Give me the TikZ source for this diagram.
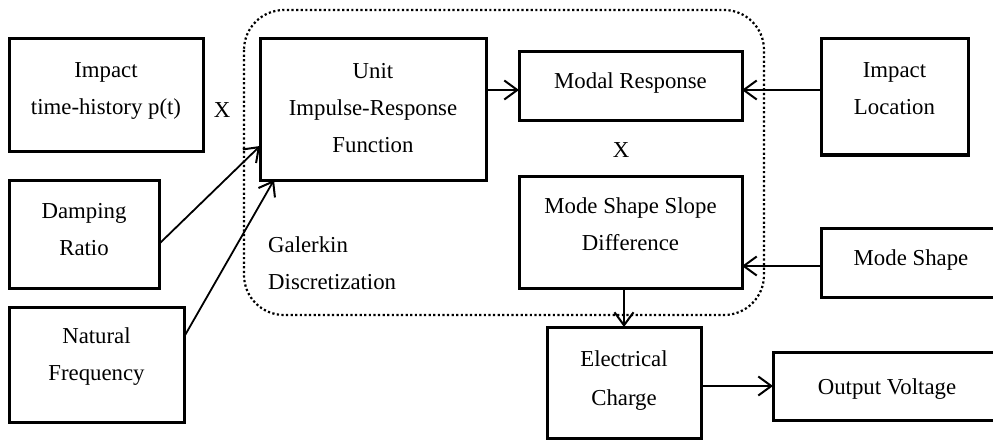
\documentclass[tikz,border=0pt]{standalone}
\usepackage{fontspec}
\setmainfont{Liberation Serif}
\usetikzlibrary{arrows.meta,calc}

\tikzset{
  box/.style={draw, line width=3pt, inner sep=0pt, outer sep=0pt},
  lbl/.style={font=\fontsize{22.8}{37}\selectfont, align=center, inner sep=0pt},
  arr/.style={draw, line width=1.8pt,
    -{Straight Barb[length=13pt,width=19pt,line width=2pt]}},
  region/.style={draw, line width=2.2pt, dash pattern=on 2.2pt off 2.4pt,
    rounded corners=40pt}
}

\begin{document}
\begin{tikzpicture}[x=1pt, y=-1pt]
  \useasboundingbox (0,0) rectangle (993,441);
  \clip (0,0) rectangle (993,441);

  % discretization region
  \draw[region] (244,10) rectangle (764,315);

  % boxes
  \node[box, minimum width=194pt, minimum height=113pt] (imp)   at (106,95.5)  {};
  \node[box, minimum width=226pt, minimum height=141pt] (unit)  at (373,109.5) {};
  \node[box, minimum width=223pt, minimum height=69pt]  (modal) at (630.5,86.5) {};
  \node[box, minimum width=147pt, minimum height=116pt] (loc)   at (894.5,97)  {};
  \node[box, minimum width=150pt, minimum height=108pt] (damp)  at (84,234)    {};
  \node[box, minimum width=175pt, minimum height=115pt] (nat)   at (96.5,364.5) {};
  \node[box, minimum width=223pt, minimum height=112pt] (msd)   at (630.5,232) {};
  \node[box, minimum width=180pt, minimum height=69pt]  (ms)    at (911,262.5) {};
  \node[box, minimum width=154pt, minimum height=111pt] (ec)    at (624,382.5) {};
  \node[box, minimum width=228pt, minimum height=68pt]  (ov)    at (887,386)   {};

  % texts
  \node[lbl] (impT)   at (106,91)    {Impact\\time-history p(t)};
  \node[lbl] (unitT)  at (373,108)   {Unit\\Impulse-Response\\Function};
  \node[lbl] (modalT) at (630.5,83)  {Modal Response};
  \node[lbl] (locT)   at (894.5,88.5) {Impact\\Location};
  \node[lbl] (dampT)  at (84,230)    {Damping\\Ratio};
  \node[lbl] (natT)   at (96.5,357)  {Natural\\Frequency};
  \node[lbl] (msdT)   at (630.5,224.5) {Mode Shape Slope\\Difference};
  \node[lbl] (msT)    at (911,260)   {Mode Shape};
  \node[lbl, font=\fontsize{22.8}{39}\selectfont] (ecT) at (624,381) {Electrical\\Charge};
  \node[lbl] (ovT)    at (887,389)   {Output Voltage};
  \node[lbl, align=left, anchor=west] (galT) at (268,263) {Galerkin\\Discretization};
  \node[lbl] (x1) at (222,110) {X};
  \node[lbl] (x2) at (621,150) {X};

  % connectors
  \draw[arr] ($(modal.west -| unit.east)+(0,3.5)$) -- ($(modal.west)+(0,3.5)$);
  \draw[arr] ($(loc.west |- modal.east)+(0,3.5)$) -- ($(modal.east)+(0,3.5)$);
  \draw[arr] ($(damp.east)+(0,10)$) -- ($(unit.west)+(0,36.5)$);
  \draw[arr] ($(nat.east)+(0,-27.5)$) -- ($(unit.south west)+(14,0)$);
  \draw[arr] ($(ms.west)+(0,3.5)$) -- ($(ms.west -| msd.east)+(0,3.5)$);
  \draw[arr] (msd.south -| ec.north) -- (ec.north);
  \draw[arr] (ec.east |- ov.west) -- (ov.west);
\end{tikzpicture}
\end{document}
